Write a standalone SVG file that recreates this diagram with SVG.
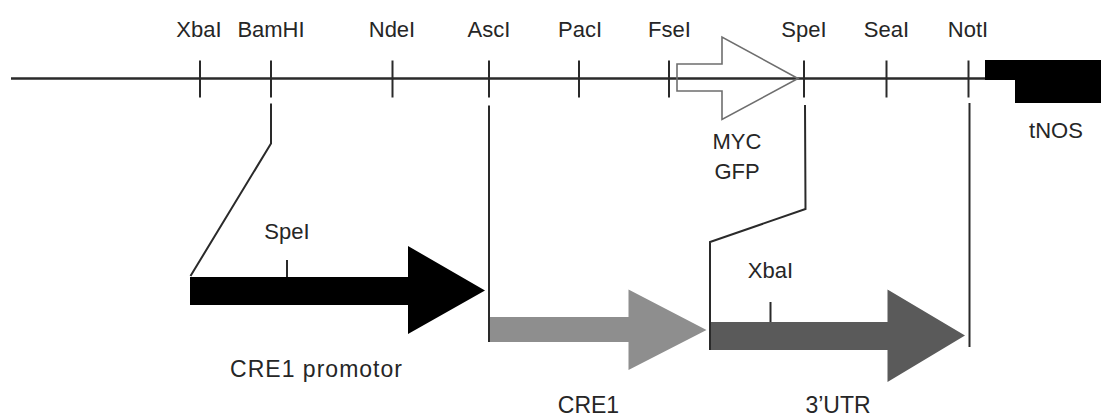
<svg xmlns="http://www.w3.org/2000/svg" width="1101" height="417" viewBox="0 0 1101 417">
<style>
  text { font-family: "Liberation Sans", Arial, Helvetica, sans-serif; fill: #262626; text-anchor: middle; }
  .lbl { font-size: 22px; }
  .big { font-size: 23px; }
  .tick { stroke: #2a2a2a; stroke-width: 2; fill: none; }
  .conn { stroke: #2a2a2a; stroke-width: 2; fill: none; stroke-linejoin: miter; }
</style>
<rect width="1101" height="417" fill="#ffffff"/>

<g id="backbone">
  <line x1="11" y1="78.5" x2="986" y2="78.5" stroke="#2a2a2a" stroke-width="2.5"/>
</g>

<g id="sites">
  <line class="tick" x1="200" y1="60.5" x2="200" y2="97.5"/>
  <line class="tick" x1="271" y1="60.5" x2="271" y2="97.5"/>
  <line class="tick" x1="392.5" y1="60.5" x2="392.5" y2="97.5"/>
  <line class="tick" x1="489" y1="60.5" x2="489" y2="97.5"/>
  <line class="tick" x1="579" y1="60.5" x2="579" y2="97.5"/>
  <line class="tick" x1="669" y1="60.5" x2="669" y2="97.5"/>
  <line class="tick" x1="804" y1="60.5" x2="804" y2="97.5"/>
  <line class="tick" x1="886.5" y1="60.5" x2="886.5" y2="97.5"/>
  <line class="tick" x1="968.5" y1="60.5" x2="968.5" y2="97.5"/>
  <text class="lbl" x="199" y="37">XbaI</text>
  <text class="lbl" x="271" y="37">BamHI</text>
  <text class="lbl" x="392" y="37">NdeI</text>
  <text class="lbl" x="489" y="37">AscI</text>
  <text class="lbl" x="580" y="37">PacI</text>
  <text class="lbl" x="669.5" y="37">FseI</text>
  <text class="lbl" x="804" y="37">SpeI</text>
  <text class="lbl" x="886.5" y="37">SeaI</text>
  <text class="lbl" x="968" y="37">NotI</text>
</g>

<g id="myc-gfp">
  <polygon points="677,64 722,64 722,37 798,78.5 722,119.5 722,91 677,91" fill="none" stroke="#6e6e6e" stroke-width="1.6"/>
  <text class="lbl" x="737" y="149">MYC</text>
  <text class="lbl" x="737" y="178.5">GFP</text>
</g>

<g id="tnos">
  <polygon points="985,60 1101,60 1101,103 1015,103 1015,80 985,80" fill="#000000"/>
  <text class="lbl" x="1056" y="138">tNOS</text>
</g>

<g id="cre1-promotor">
  <polygon points="190,277 408,277 408,246 485,290.5 408,334 408,305 190,305" fill="#000000"/>
  <line class="tick" x1="287" y1="260" x2="287" y2="277"/>
  <text class="lbl" x="287" y="239">SpeI</text>
  <text class="big" x="316" y="377" textLength="172" lengthAdjust="spacing">CRE1 promotor</text>
</g>

<g id="cre1">
  <polygon points="490,317 628.5,317 628.5,289.5 706.5,330 628.5,370 628.5,342 490,342" fill="#8e8e8e"/>
  <text class="big" x="588.5" y="413">CRE1</text>
</g>

<g id="utr3">
  <polygon points="710,322 887.5,322 887.5,289.5 965,335.5 887.5,382 887.5,350 710,350" fill="#5a5a5a"/>
  <line class="tick" x1="770.5" y1="302" x2="770.5" y2="322"/>
  <text class="lbl" x="770.5" y="278">XbaI</text>
  <text class="big" x="838" y="413">3’UTR</text>
</g>

<g id="connectors">
  <polyline class="conn" points="271,103.5 271,143.5 190.5,276"/>
  <line class="conn" x1="489" y1="105.5" x2="489" y2="342" stroke="#3a3a3a" stroke-width="2.5"/>
  <polyline class="conn" points="805,105 805.5,209 710,242 710,350"/>
  <line class="conn" x1="969.5" y1="103" x2="969.5" y2="347" stroke="#3a3a3a"/>
</g>
</svg>
